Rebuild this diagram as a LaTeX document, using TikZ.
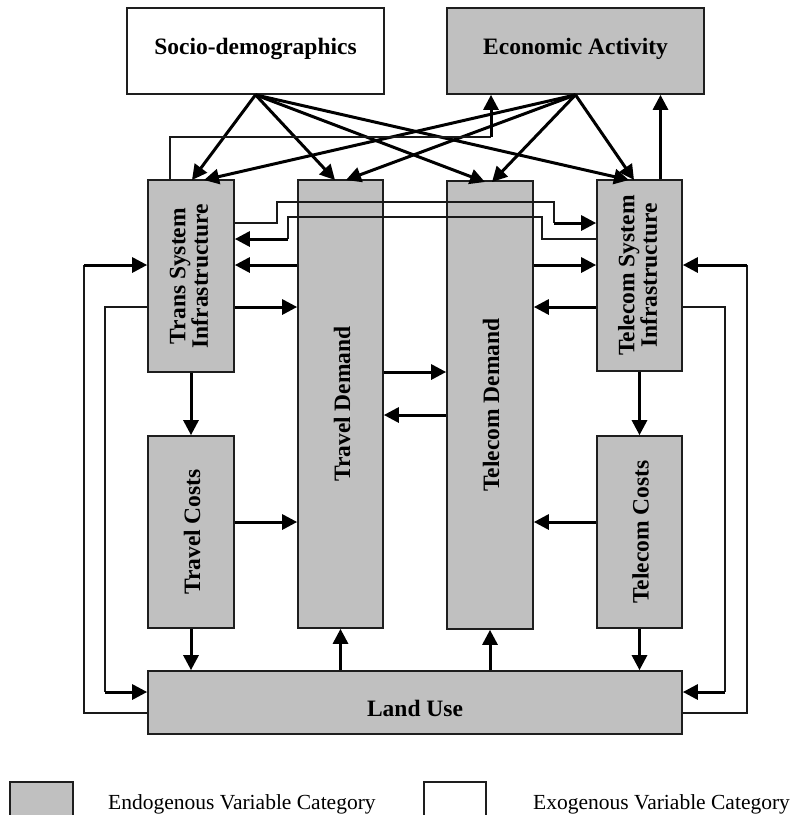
\documentclass[tikz,border=0pt]{standalone}
\usepackage{fontspec}
\setmainfont{Liberation Serif}
\usepackage{xcolor}
\usetikzlibrary{arrows.meta}
\definecolor{boxgray}{RGB}{192,192,192}
\definecolor{edgegray}{RGB}{30,30,30}

\begin{document}
\begin{tikzpicture}[x=1pt,y=-1pt,
  cat/.style={draw=edgegray,line width=1.7pt,fill=boxgray,inner sep=0pt},
  exo/.style={cat,fill=white},
  lbl/.style={font=\fontsize{23.5}{22.5}\selectfont\bfseries,align=center,inner sep=0pt},
  vlbl/.style={lbl,rotate=90},
  arr/.style={line width=3pt,-{Triangle[length=15pt,width=15pt]}},
  fb/.style={line width=1.1pt,draw=black!90},
  key/.style={font=\fontsize{21.5}{24}\selectfont,anchor=base west,inner sep=0pt}]

\useasboundingbox (0,0) rectangle (793,815);

% top row
\node[exo,minimum width=257,minimum height=86] (socio) at (255.5,51) {};
\node[lbl] (sociotxt) at (255.5,49) {Socio-demographics};
\node[cat,minimum width=257,minimum height=86] (econ) at (575.5,51) {};
\node[lbl] (econtxt) at (575.5,49) {Economic Activity};

% infrastructure and demand
\node[cat,minimum width=86,minimum height=192] (tsi) at (191,276) {};
\node[vlbl] (tsitxt) at (189,276) {Trans System\\Infrastructure};
\node[cat,minimum width=85,minimum height=448] (tdem) at (340.5,404) {};
\node[vlbl] (tdemtxt) at (342,404) {Travel Demand};
\node[cat,minimum width=86,minimum height=448] (cdem) at (490,405) {};
\node[vlbl] (cdemtxt) at (491,405) {Telecom Demand};
\node[cat,minimum width=85,minimum height=191] (csi) at (639.5,275.5) {};
\node[vlbl] (csitxt) at (637.5,275.5) {Telecom System\\Infrastructure};

% costs and land use
\node[cat,minimum width=86,minimum height=192] (tcost) at (191,532) {};
\node[vlbl] (tcosttxt) at (192,532) {Travel Costs};
\node[cat,minimum width=85,minimum height=192] (ccost) at (639.5,532) {};
\node[vlbl] (ccosttxt) at (640.5,532) {Telecom Costs};
\node[cat,minimum width=534,minimum height=63] (land) at (415,702.5) {};
\node[lbl] (landtxt) at (415,708) {Land Use};

% from the exogenous boxes
\draw[arr] (socio.south) -- (192,180);
\draw[arr] (socio.south) -- (335,180);
\draw[arr] (socio.south) -- (485,182);
\draw[arr] (socio.south) -- (629,180);
\draw[arr] (econ.south) -- (204,180);
\draw[arr] (econ.south) -- (346,180);
\draw[arr] (econ.south) -- (492,182);
\draw[arr] (econ.south) -- (634,180);

% back to economic activity
\draw[fb] ([xshift=-21]tsi.north) |- (491,137) coordinate (e1);
\draw[arr] (e1) -- (e1 |- econ.south);
\draw[arr] ([xshift=21]csi.north) -- ([xshift=21]csi.north |- econ.south);

% between the two infrastructures
\draw[fb] (tsi.east |- 0,223) -| (277,202) -| (554,223) coordinate (k1);
\draw[arr] (k1) -- (k1 -| csi.west);
\draw[fb] (csi.west |- 0,239) -| (542,217) -| (288,239) coordinate (k2);
\draw[arr] (k2) -- (k2 -| tsi.east);

% infrastructure <-> demand
\draw[arr] (tdem.west |- 0,265) -- (tsi.east |- 0,265);
\draw[arr] (tsi.east |- 0,307) -- (tdem.west |- 0,307);
\draw[arr] (cdem.east |- 0,265) -- (csi.west |- 0,265);
\draw[arr] (csi.west |- 0,307) -- (cdem.east |- 0,307);

% demand <-> demand
\draw[arr] (tdem.east |- 0,372) -- (cdem.west |- 0,372);
\draw[arr] (cdem.west |- 0,415) -- (tdem.east |- 0,415);

% costs
\draw[arr] (tsi.south) -- (tcost.north);
\draw[arr] (csi.south) -- (ccost.north);
\draw[arr] (tcost.east |- 0,522) -- (tdem.west |- 0,522);
\draw[arr] (ccost.west |- 0,522) -- (cdem.east |- 0,522);
\draw[arr] (tcost.south) -- (tcost.south |- land.north);
\draw[arr] (ccost.south) -- (ccost.south |- land.north);
\draw[arr] (tdem.south |- land.north) -- (tdem.south);
\draw[arr] (cdem.south |- land.north) -- (cdem.south);

% land use loops, left
\draw[fb] (land.west |- 0,713) -| (84,265) coordinate (k3);
\draw[arr] (k3) -- (k3 -| tsi.west);
\draw[fb] (tsi.west |- 0,307) -| (105,692) coordinate (k4);
\draw[arr] (k4) -- (k4 -| land.west);

% land use loops, right
\draw[fb] (land.east |- 0,713) -| (747,265) coordinate (k5);
\draw[arr] (k5) -- (k5 -| csi.east);
\draw[fb] (csi.east |- 0,307) -| (725,692) coordinate (k6);
\draw[arr] (k6) -- (k6 -| land.east);

% key
\node[cat,minimum width=63,minimum height=40,anchor=north west] (endokey) at (9,781) {};
\node[key] (endotxt) at (108,809) {Endogenous Variable Category};
\node[exo,minimum width=62,minimum height=40,anchor=north west] (exokey) at (423,781) {};
\node[key] (exotxt) at (533,809) {Exogenous Variable Category};

\end{tikzpicture}
\end{document}
